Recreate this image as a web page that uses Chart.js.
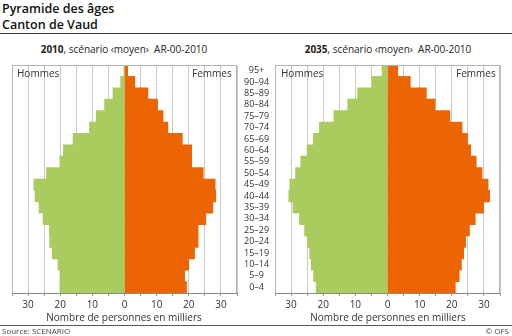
<!DOCTYPE html>
<html>
<head>
<meta charset="utf-8">
<script src="https://cdn.jsdelivr.net/npm/chart.js@4/dist/chart.umd.min.js"></script>
<style>
  html, body { margin:0; padding:0; background:#fff; }
  body { width:512px; height:336px; position:relative; overflow:hidden; font-family:"Open Sans", "DejaVu Sans", sans-serif; color:#222; }
  .abs { position:absolute; white-space:nowrap; }
  #t1 { left:2px; top:1px; font-size:12.5px; font-weight:600; line-height:16px; color:#111; }
  #rule1 { left:0; top:33px; width:512px; height:1px; background:#333; }
  .sub { top:43px; font-size:10px; line-height:13px; color:#222; transform:translateX(-50%); }
  .sub b { font-weight:700; }
  .lab { top:67px; font-size:10px; line-height:13px; color:#333; }
  .xt { top:311px; font-size:10px; line-height:12px; color:#333; transform:translateX(-50%); }
  #rule2 { left:0; top:325px; width:512px; height:1px; background:#555; }
  .foot { top:326px; font-size:8px; line-height:10px; color:#444; }
  .chartbox { position:absolute; top:60px; height:266px; }
</style>
</head>
<body>
<div id="t1" class="abs">Pyramide des âges<br>Canton de Vaud</div>
<div id="rule1" class="abs"></div>
<div class="abs sub" style="left:124px"><b>2010</b>, scénario ‹moyen›&nbsp; AR-00-2010</div>
<div class="abs sub" style="left:388px"><b>2035</b>, scénario ‹moyen›&nbsp; AR-00-2010</div>

<div class="chartbox" style="left:0;width:276px"><canvas id="c1"></canvas></div>
<div class="chartbox" style="left:263px;width:249px"><canvas id="c2"></canvas></div>

<div class="abs lab" style="left:17px">Hommes</div>
<div class="abs lab" style="left:192px">Femmes</div>
<div class="abs lab" style="left:281px">Hommes</div>
<div class="abs lab" style="left:456px">Femmes</div>

<div class="abs xt" style="left:124px">Nombre de personnes en milliers</div>
<div class="abs xt" style="left:388px">Nombre de personnes en milliers</div>
<div id="rule2" class="abs"></div>
<div class="abs foot" style="left:2px">Source: SCENARIO</div>
<div class="abs foot" style="right:3px">© OFS</div>

<script>
// Age groups, youngest first
const ageGroups = ['0–4','5–9','10–14','15–19','20–24','25–29','30–34','35–39','40–44','45–49',
                   '50–54','55–59','60–64','65–69','70–74','75–79','80–84','85–89','90–94','95+'];
// Thousands of persons
const men2010   = [20.1, 20.1, 20.7, 22.5, 23.3, 23.4, 25.3, 26.6, 27.8, 28.2, 24.3, 20.1, 19.0, 16.0, 10.9, 8.8, 6.2, 3.6, 1.2, 0.2];
const women2010 = [19.3, 18.7, 20.0, 21.8, 22.9, 22.9, 25.3, 27.5, 28.4, 28.2, 24.5, 20.9, 20.9, 18.0, 13.5, 12.0, 10.3, 7.3, 3.2, 1.0];
const men2035   = [22.2, 23.0, 23.7, 24.2, 24.9, 25.8, 27.4, 29.4, 30.7, 30.4, 28.6, 27.0, 25.0, 23.1, 21.2, 16.7, 12.4, 9.3, 4.8, 1.7];
const women2035 = [21.1, 22.3, 23.0, 23.7, 24.3, 25.5, 27.3, 29.9, 31.8, 31.3, 29.4, 27.6, 25.9, 24.9, 23.2, 19.4, 14.8, 12.1, 7.1, 3.2];
const xTickValues = [-30, -20, -10, 0, 10, 20, 30];

const GREEN = '#AACC5E';
const ORANGE = '#EC6502';
const FONT = '"Open Sans", "DejaVu Sans", sans-serif';

const framePlugin = {
  id: 'frame',
  afterDraw(chart) {
    const a = chart.chartArea, ctx = chart.ctx;
    ctx.save();
    ctx.strokeStyle = '#b4b4b4';
    ctx.lineWidth = 1;
    ctx.beginPath();
    ctx.moveTo(Math.round(a.left) + 0.5, Math.round(a.bottom));
    ctx.lineTo(Math.round(a.left) + 0.5, Math.round(a.top) + 0.5);
    ctx.lineTo(Math.round(a.right) - 0.5, Math.round(a.top) + 0.5);
    ctx.lineTo(Math.round(a.right) - 0.5, Math.round(a.bottom));
    ctx.stroke();
    ctx.restore();
  }
};

function makeChart(id, men, women, showAges, padLeft, padRight) {
  return new Chart(document.getElementById(id), {
    type: 'bar',
    data: {
      labels: ageGroups,
      datasets: [
        { label: 'Hommes', data: men.map(v => -v), backgroundColor: GREEN, borderWidth: 0, barPercentage: 1, categoryPercentage: 1 },
        { label: 'Femmes', data: women, backgroundColor: ORANGE, borderWidth: 0, barPercentage: 1, categoryPercentage: 1 }
      ]
    },
    options: {
      indexAxis: 'y',
      responsive: true,
      maintainAspectRatio: false,
      animation: false,
      events: [],
      layout: { padding: { left: padLeft, right: padRight, top: 5, bottom: 0 } },
      plugins: { legend: { display: false }, tooltip: { enabled: false }, title: { display: false } },
      scales: {
        x: {
          stacked: true,
          min: -35, max: 35,
          afterBuildTicks(scale) {
            const t = [];
            for (let v = -35; v <= 35; v += 5) t.push({ value: v });
            scale.ticks = t;
          },
          afterFit(scale) { scale.height = 33; scale.paddingLeft = 0; scale.paddingRight = 0; },
          grid: { color: '#c8c8c8', lineWidth: 1, tickLength: 3, tickColor: '#999', drawTicks: true },
          border: { display: true, color: '#8a8a8a' },
          ticks: {
            autoSkip: false, maxRotation: 0, padding: 3,
            color: '#333', font: { family: FONT, size: 10 },
            callback(v) { return xTickValues.includes(v) ? String(Math.abs(v)) : ''; }
          }
        },
        y: {
          stacked: true,
          reverse: true,
          display: showAges,
          position: 'right',
          afterFit(scale) {
            scale.width = showAges ? 39 : 0;
            scale.paddingTop = 0; scale.paddingBottom = 0;
          },
          grid: { display: false, drawTicks: false },
          border: { display: false },
          ticks: { autoSkip: false, crossAlign: 'center', padding: 7, color: '#333', font: { family: FONT, size: 9 } }
        }
      }
    },
    plugins: [framePlugin]
  });
}

makeChart('c1', men2010, women2010, true, 12, 0);
makeChart('c2', men2035, women2035, false, 12, 12);
</script>
</body>
</html>
